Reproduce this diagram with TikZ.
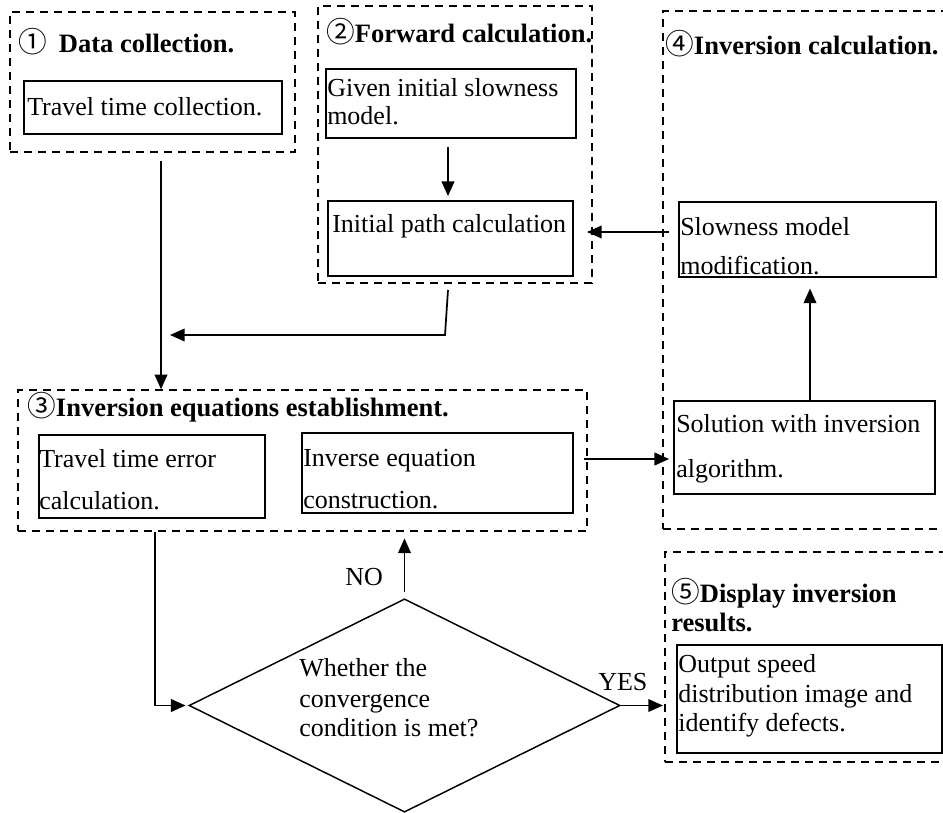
\documentclass[tikz,border=0pt]{standalone}
\usepackage{fontspec}
\setmainfont{Liberation Serif}
\newfontfamily\cjkf{Noto Sans CJK SC}
\usetikzlibrary{shapes.geometric,arrows.meta,fit}
\newcommand{\circd}[1]{{\cjkf\mdseries\fontsize{21.5}{24}\selectfont #1}}
\begin{document}
\begin{tikzpicture}[x=0.75pt,y=-0.75pt,
  txt/.style={anchor=base west, inner sep=0pt, font=\fontsize{19.5}{23}\selectfont},
  ttl/.style={anchor=base west, inner sep=0pt, font=\fontsize{19.9}{23}\selectfont\bfseries},
  ibox/.style={draw, line width=1.3pt, inner sep=0pt},
  gbox/.style={draw, line width=1.1pt, dash pattern=on 6pt off 4.5pt, inner sep=0pt},
  arr/.style={line width=1.3pt, -{Triangle[length=11pt,width=9.5pt]}}]
\useasboundingbox (0,0) rectangle (943,813);
\clip (0,0) rectangle (943,813);

% group 1
\node[gbox, fit={(10,12) (295,152)}] (g1) {};
\node[ibox, fit={(24,81) (282,134)}] (b1) {};
\node[ttl] (t1) at (18,53) {\circd{①}\hspace{9pt}Data collection.};
\node[txt] (t1a) at (27,116) {Travel time collection.};

% group 2
\node[gbox, fit={(318,6) (592,283)}] (g2) {};
\node[ibox, fit={(326,69) (576,138)}] (gi) {};
\node[ibox, fit={(328,201) (573,276)}] (ip) {};
\node[ttl] (t2) at (326,43) {\circd{②}Forward calculation.};
\node[txt] (t2a) at (327,97) {Given initial slowness};
\node[txt] (t2b) at (327,125) {model.};
\node[txt] (t2c) at (332,233) {Initial path calculation};

% group 4
\node[gbox, fit={(663,11) (960,529)}] (g4) {};
\node[ibox, fit={(679,202) (936,277)}] (smm) {};
\node[ibox, fit={(674,401) (935,494)}] (sol) {};
\node[ttl] (t4) at (665,55) {\circd{④}Inversion calculation.};
\node[txt] (t4a) at (680,236) {Slowness model};
\node[txt] (t4b) at (680,275) {modification.};
\node[txt] (t4c) at (676,432) {Solution with inversion};
\node[txt] (t4d) at (676,477) {algorithm.};

% group 3
\node[gbox, fit={(18,390) (587,531)}] (g3) {};
\node[ibox, fit={(39,435) (265,518)}] (te) {};
\node[ibox, fit={(302,433) (573,513)}] (ie) {};
\node[ttl] (t3) at (27,416) {\circd{③}Inversion equations establishment.};
\node[txt] (t3a) at (39,467) {Travel time error};
\node[txt] (t3b) at (39,509) {calculation.};
\node[txt] (t3c) at (303,466) {Inverse equation};
\node[txt] (t3d) at (303,508) {construction.};

% decision
\node[draw, diamond, line width=1.1pt, inner sep=0pt, minimum width=323.25pt, minimum height=160pt] (dm) at (404.5,705.5) {};
\node[txt] (dq1) at (299,676) {Whether the};
\node[txt] (dq2) at (299,707) {convergence};
\node[txt] (dq3) at (299,736) {condition is met?};
\node[txt] (no) at (345,585) {NO};
\node[txt] (yes) at (598,690) {YES};

% group 5
\node[gbox, fit={(665,552) (960,762)}] (g5) {};
\node[ibox, fit={(677,645) (942,753)}] (out) {};
\node[ttl] (t5) at (671,602) {\circd{⑤}Display inversion};
\node[ttl] (t5b) at (671,631) {results.};
\node[txt] (t5c) at (678,672) {Output speed};
\node[txt] (t5d) at (678,702) {distribution image and};
\node[txt] (t5e) at (678,731) {identify defects.};

% connectors
\coordinate (a1) at (161,161);
\draw[arr] (a1) -- (a1 |- g3.north);
\coordinate (a2) at (448,147);
\draw[arr, shorten >=3pt] (a2) -- (a2 |- ip.north);
\coordinate (a3s) at (448,290);
\coordinate (a3c) at (445,335);
\coordinate (a3e) at (170,335);
\draw[arr] (a3s) -- (a3c) -- (a3e);
\coordinate (a4s) at (669,232);
\coordinate (a4e) at (587,232);
\draw[arr] (a4s) -- (a4e);
\coordinate (a5) at (810,0);
\draw[arr] (a5 |- sol.north) -- ([yshift=-8pt]a5 |- smm.south);
\coordinate (a6) at (584,459);
\draw[arr, shorten >=3pt] (a6) -- (a6 -| sol.west);
\coordinate (a7) at (155,0);
\draw[arr, shorten >=2pt] (a7 |- g3.south) -- (a7 |- dm.west) -- (dm.west);
\draw[arr] ([yshift=4.5pt]dm.north) -- ([yshift=-5pt]dm.north |- g3.south);
\draw[arr, shorten >=1pt] (dm.east) -- (dm.east -| g5.west);
\end{tikzpicture}
\end{document}
